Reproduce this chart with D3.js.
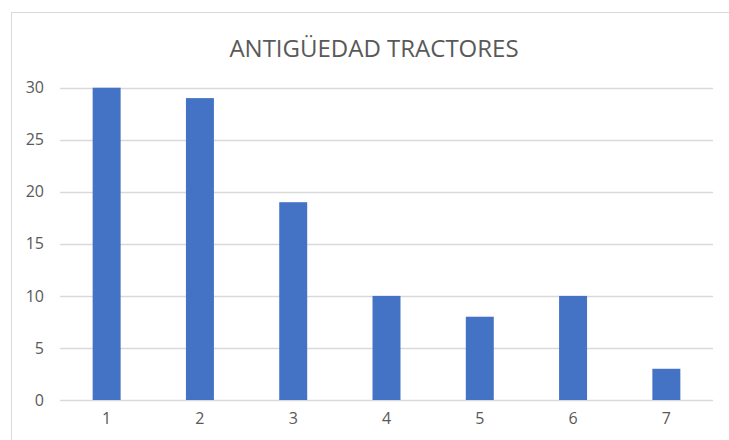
<!DOCTYPE html>
<html>
<head>
<meta charset="utf-8">
<script src="https://cdn.jsdelivr.net/npm/d3@7"></script>
<style>
  body { margin: 0; background: #fff; }
  svg { display: block; font-family: 'Open Sans', sans-serif; }
</style>
</head>
<body>
<div id="chart"></div>
<script>
// chart data
var categories = ['1', '2', '3', '4', '5', '6', '7'];
var values = [30, 29, 19, 10, 8, 10, 3];
var yTicks = [0, 5, 10, 15, 20, 25, 30];
var title = 'ANTIGÜEDAD TRACTORES';

var width = 729, height = 440;
var plot = { left: 60, right: 713, top: 87.7, bottom: 400 };

var svg = d3.select('#chart').append('svg')
  .attr('width', width)
  .attr('height', height);

// outer chart border, runs off the right and bottom edges
svg.append('rect')
  .attr('x', 11.5)
  .attr('y', 12.5)
  .attr('width', 740)
  .attr('height', 450)
  .attr('fill', '#fff')
  .attr('stroke', '#d9d9d9')
  .attr('stroke-width', 1);

svg.append('text')
  .attr('x', 374)
  .attr('y', 57)
  .attr('text-anchor', 'middle')
  .attr('font-size', '24px')
  .attr('fill', '#595959')
  .text(title);

var x = d3.scaleBand()
  .domain(categories)
  .range([plot.left, plot.right])
  .paddingInner(0.7)
  .paddingOuter(0.35);

var y = d3.scaleLinear()
  .domain([0, 30])
  .range([plot.bottom, plot.top]);

// gridlines
svg.append('g')
  .attr('class', 'grid')
  .selectAll('line')
  .data(yTicks)
  .enter()
  .append('line')
  .attr('x1', plot.left)
  .attr('x2', plot.right)
  .attr('y1', d => Math.round(y(d)) + 0.5)
  .attr('y2', d => Math.round(y(d)) + 0.5)
  .attr('stroke', '#d9d9d9')
  .attr('stroke-width', 1.3);

// bars
svg.append('g')
  .selectAll('rect')
  .data(values)
  .enter()
  .append('rect')
  .attr('x', (d, i) => x(categories[i]))
  .attr('y', d => y(d))
  .attr('width', x.bandwidth())
  .attr('height', d => y(0) - y(d))
  .attr('fill', '#4472c4');

// y axis labels
var yAxis = d3.axisLeft(y).tickValues(yTicks).tickSize(0).tickPadding(0);
svg.append('g')
  .attr('transform', 'translate(44,0)')
  .call(yAxis)
  .call(g => g.select('.domain').remove())
  .selectAll('text')
  .attr('font-family', "'Open Sans', sans-serif")
  .attr('font-size', '16px')
  .attr('fill', '#595959');

// x axis labels
var xAxis = d3.axisBottom(x).tickSize(0).tickPadding(0);
svg.append('g')
  .attr('transform', 'translate(0,413)')
  .call(xAxis)
  .call(g => g.select('.domain').remove())
  .selectAll('text')
  .attr('font-family', "'Open Sans', sans-serif")
  .attr('font-size', '16px')
  .attr('fill', '#595959');
</script>
</body>
</html>
